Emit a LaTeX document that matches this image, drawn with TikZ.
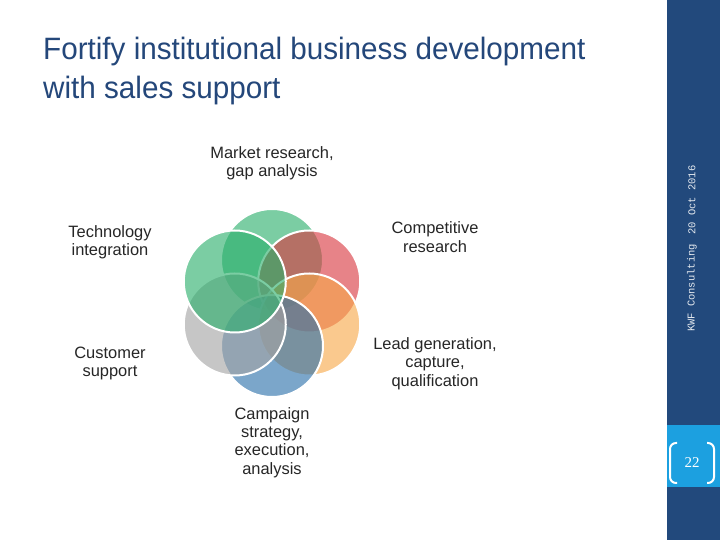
\documentclass[tikz,border=0pt]{standalone}
\usepackage{fontspec}
\setmainfont{Liberation Sans}
\newfontfamily\sidefont{Liberation Mono}
\newfontfamily\pagefont{Liberation Serif}
\newfontfamily\titlefont[FakeStretch=0.96]{Liberation Sans}
\usepackage{tikz}
\usetikzlibrary{positioning}

\definecolor{titleblue}{HTML}{24477A}
\definecolor{barblue}{HTML}{22497C}
\definecolor{pagecyan}{HTML}{1CA0E0}
\definecolor{petalgreen}{HTML}{2AAF6B}
\definecolor{petalred}{HTML}{D9373F}
\definecolor{petalorange}{HTML}{F7A84A}
\definecolor{petalblue}{HTML}{2A70AA}
\definecolor{petalgrey}{HTML}{A4A4A4}

\begin{document}
\begin{tikzpicture}[x=1bp,y=1bp,
	title/.style={anchor=base west,inner sep=0pt,text=titleblue,font=\titlefont\fontsize{31}{36}\selectfont},
	topic/.style={align=center,inner sep=0pt,text=black!85,font=\fontsize{16.5}{18.5}\selectfont},
	petal/.style={circle,minimum size=102bp,inner sep=0pt,draw=white,line width=2bp,fill opacity=0.62}]
	\useasboundingbox (0,0) rectangle (720,540);
	\fill[white] (0,0) rectangle (720,540);
	% side bar
	\fill[barblue] (667,0) rectangle (720,540);
	\fill[pagecyan] (667,53) rectangle (720,115);
	\node [rotate=90,text=white!88!barblue,font=\sidefont\fontsize{10.5}{12}\selectfont] (firm) at (692,252) {KWF Consulting};
	\node [rotate=90,text=white!88!barblue,font=\sidefont\fontsize{10.5}{12}\selectfont] (date) at (692,340) {20 Oct 2016};
	\node [text=white,font=\pagefont\fontsize{15}{17}\selectfont] (page) at (692,77) {22};
	\draw [white,line width=2bp,rounded corners=6bp] ([xshift=-15bp,yshift=20bp]page.center) -- ++(-7,0) -- ++(0,-40) -- ++(7,0);
	\draw [white,line width=2bp,rounded corners=6bp] ([xshift=15bp,yshift=20bp]page.center) -- ++(7,0) -- ++(0,-40) -- ++(-7,0);
	% title
	\node [title] (title) at (43,480) {Fortify institutional business development};
	\node [title] (title2) at ([yshift=-39bp]title.base west) {with sales support};
	% flower
	\coordinate (hub) at (272,237);
	\node [petal,fill=petalgreen]  (market)   at ([shift={(90:43)}]hub) {};
	\node [petal,fill=petalred]    (compet)   at ([shift={(30:43)}]hub) {};
	\node [petal,fill=petalorange] (lead)     at ([shift={(-30:43)}]hub) {};
	\node [petal,fill=petalblue]   (campaign) at ([shift={(-90:43)}]hub) {};
	\node [petal,fill=petalgrey]   (customer) at ([shift={(-150:43)}]hub) {};
	\node [petal,fill=petalgreen]  (techno)   at ([shift={(150:43)}]hub) {};
	% texts
	\node [topic] (marketText) at (272,377) {Market research,\\gap analysis};
	\node [topic] (techText) at (110,298) {Technology\\integration};
	\node [topic] (competText) at (435,303) {Competitive\\research};
	\node [topic] (leadText) at (435,176.5) {Lead generation,\\capture,\\qualification};
	\node [topic] (customerText) at (110,176.5) {Customer\\support};
	\node [topic] (campaignText) at (272,97.5) {Campaign\\strategy,\\execution,\\analysis};
\end{tikzpicture}
\end{document}
